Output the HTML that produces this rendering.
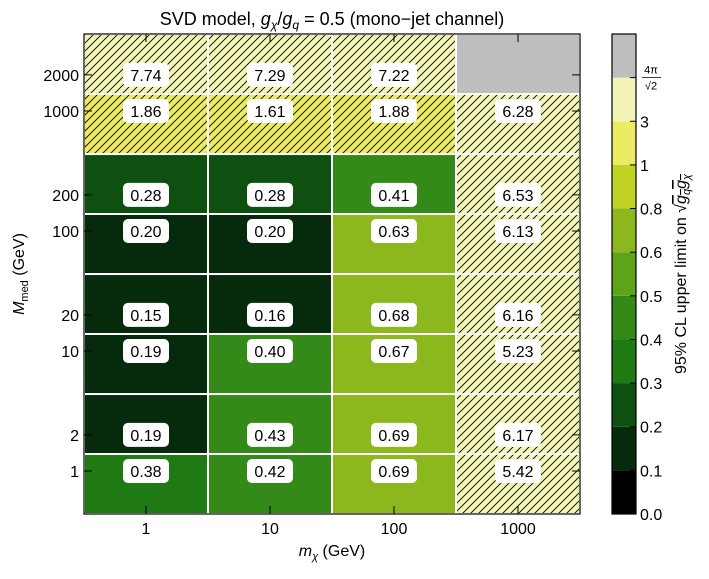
<!DOCTYPE html>
<html><head><meta charset="utf-8"><style>
body{margin:0;background:#fff;}
svg{font-family:"Liberation Sans","DejaVu Sans",sans-serif;}
</style></head><body>
<svg id="c" width="709" height="574" xmlns="http://www.w3.org/2000/svg">
<defs>
<pattern id="hatch" patternUnits="userSpaceOnUse" width="8" height="8">
<path d="M-2,2 L2,-2 M0,8 L8,0 M6,10 L10,6" stroke="#000" stroke-width="0.9"/>
</pattern>
</defs>
<text x="332" y="25" text-anchor="middle" font-size="18">SVD model, <tspan font-style="italic">g</tspan><tspan font-size="12" dy="4" font-style="italic">χ</tspan><tspan dy="-4">/</tspan><tspan font-style="italic">g</tspan><tspan font-size="12" dy="4" font-style="italic">q</tspan><tspan dy="-4">  = 0.5 (mono−jet channel)</tspan></text>
<g id="cells"></g>
<g id="labels"></g>
<rect x="84" y="34" width="496" height="480" fill="none" stroke="#000" stroke-width="1.2"/>
<g id="axes"></g>
<text x="332" y="556" text-anchor="middle" font-size="16"><tspan font-style="italic">m</tspan><tspan font-size="11" dy="4" font-style="italic">χ</tspan><tspan dy="-4"> (GeV)</tspan></text>
<text transform="translate(24,274) rotate(-90)" text-anchor="middle" font-size="16"><tspan font-style="italic">M</tspan><tspan font-size="11" dy="4">med</tspan><tspan dy="-4"> (GeV)</tspan></text>
<g id="cbar"></g>
<text transform="translate(686,274) rotate(-90)" text-anchor="middle" font-size="16">95% CL upper limit on √<tspan text-decoration="overline" font-style="italic">g<tspan font-size="11" dy="4">q</tspan><tspan dy="-4">g</tspan><tspan font-size="11" dy="4">χ</tspan></tspan></text>
</svg>
<script>
const xCats = [1, 10, 100, 1000];
const yCats = [1, 2, 10, 20, 100, 200, 1000, 2000];
const yEdges = [0.438, 1.386, 4.38, 13.86, 43.8, 138.6, 438, 1386, 4380];
const xEdges = [0.3162, 3.162, 31.62, 316.2, 3162];
const col1 = [0.38, 0.19, 0.19, 0.15, 0.199, 0.28, 1.86, 7.74];
const col10 = [0.42, 0.43, 0.40, 0.16, 0.199, 0.28, 1.61, 7.29];
const col100 = [0.69, 0.69, 0.67, 0.68, 0.63, 0.41, 1.88, 7.22];
const col1000 = [5.42, 6.17, 5.23, 6.16, 6.13, 6.53, 6.28, null];
const binEdges = [0, 0.1, 0.2, 0.3, 0.4, 0.5, 0.6, 0.8, 1, 3, 8.886, 100];
const binColors = ["#000000","#062a0c","#0d5010","#1f7a14","#348a18","#5ea419","#8cb81e","#bfd424","#ecec64","#f3f5b6","#bebebe"];
const binLabels = ["0.0","0.1","0.2","0.3","0.4","0.5","0.6","0.8","1","3","4π/√2"];

const NS="http://www.w3.org/2000/svg";
function X(v){return 84+(Math.log10(v)+0.5)*124;}
function Y(v){return 471-Math.log10(v)*120;}
function mk(t,a,p){const e=document.createElementNS(NS,t);for(const k in a)e.setAttribute(k,a[k]);p.appendChild(e);return e;}
function colorOf(v){for(let i=0;i<binEdges.length-1;i++){if(v<binEdges[i+1])return binColors[i];}return binColors[binColors.length-1];}
const cols=[col1,col10,col100,col1000];
const cells=document.getElementById('cells'), labels=document.getElementById('labels');
cols.forEach((col,ci)=>{
  col.forEach((v,ri)=>{
    const x0=X(xEdges[ci]),x1=X(xEdges[ci+1]),y0=Y(yEdges[ri+1]),y1=Y(yEdges[ri]);
    const r=mk('rect',{x:x0,y:y0,width:x1-x0,height:y1-y0,fill:v===null?'#bebebe':colorOf(v),stroke:'#fff','stroke-width':2},cells);
    
    
    if(v!==null&&v>1){
      const h=mk('rect',{x:x0,y:y0,width:x1-x0,height:y1-y0,fill:'url(#hatch)',stroke:'#fff','stroke-width':2},cells);
      
      
    }
    if(v!==null){
      const cx=X(xCats[ci]),cy=Y(yCats[ri]);
      const b=mk('rect',{x:cx-23,y:cy-12,width:46,height:24,rx:5,fill:'#fff'},labels);
      
      
      const t=mk('text',{x:cx,y:cy+6,'text-anchor':'middle','font-size':16},labels);
      t.textContent=v.toFixed(2);
      
      
    }
  });
});
const ax=document.getElementById('axes');
xCats.forEach(v=>{
  const x=X(v);
  mk('line',{x1:x,x2:x,y1:514,y2:506,stroke:'#000'},ax);
  mk('line',{x1:x,x2:x,y1:34,y2:42,stroke:'#000'},ax);
  const t=mk('text',{x:x,y:534,'text-anchor':'middle','font-size':16},ax);
  t.textContent=v;
  
  
});
yCats.forEach(v=>{
  const y=Y(v);
  mk('line',{x1:84,x2:92,y1:y,y2:y,stroke:'#000'},ax);
  mk('line',{x1:580,x2:572,y1:y,y2:y,stroke:'#000'},ax);
  const t=mk('text',{x:79,y:y+6,'text-anchor':'end','font-size':16},ax);
  t.textContent=v;
  
  
});
const cb=document.getElementById('cbar');
const bh=480/binColors.length;
binColors.forEach((c,i)=>{
  const y=514-(i+1)*bh;
  const r=mk('rect',{x:612,y:y,width:24,height:bh,fill:c},cb);
  
  
});
mk('rect',{x:612,y:34,width:24,height:480,fill:'none',stroke:'#000','stroke-width':1.2},cb);
binLabels.forEach((l,i)=>{
  const y=514-i*bh;
  mk('line',{x1:636,x2:630,y1:y,y2:y,stroke:'#000'},cb);
  if(l==="4π/√2"){
    const t1=mk('text',{x:651,y:y-4,'text-anchor':'middle','font-size':11},cb);t1.textContent='4π';
    mk('line',{x1:642,x2:661,y1:y,y2:y,stroke:'#000','stroke-width':0.8},cb);
    const t2=mk('text',{x:651,y:y+12,'text-anchor':'middle','font-size':11},cb);t2.textContent='√2';
    
    
  } else {
    const t=mk('text',{x:640,y:y+6,'font-size':16},cb);
    t.textContent=l;
    
    
  }
});
</script>
</body></html>
